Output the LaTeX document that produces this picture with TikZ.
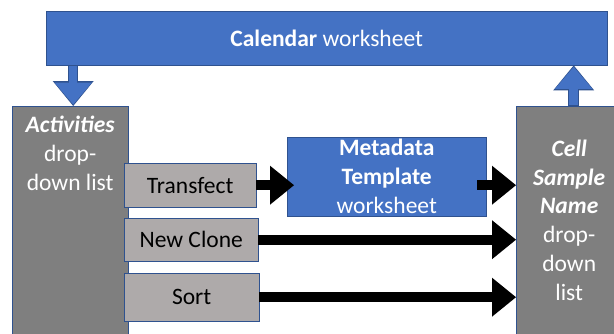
\documentclass[tikz,border=0pt]{standalone}
\usepackage{fontspec}
\setmainfont{Carlito}
\usetikzlibrary{arrows.meta,positioning}

\definecolor{sheetblue}{HTML}{4472C4}
\definecolor{edgeblue}{HTML}{2F528F}
\definecolor{listgray}{HTML}{7F7F7F}
\definecolor{actgray}{HTML}{AEAAAA}

\begin{document}
\begin{tikzpicture}[x=1bp,y=-1bp,
  every node/.style={font=\fontsize{23.6}{29}\selectfont},
  sheet/.style={fill=sheetblue,draw=edgeblue,text=white,align=center,inner sep=0pt,anchor=north west},
  droplist/.style={fill=listgray,draw=edgeblue,text=white,align=center,inner sep=0pt,anchor=north west},
  activity/.style={fill=actgray,draw=edgeblue,inner sep=0pt,anchor=north west},
  flow/.style={line width=10bp,-{Triangle[width=39bp,length=24bp,line width=0pt]}},
  linkout/.style={line width=10.5bp,draw=edgeblue,-{Triangle[width=41bp,length=25bp,line width=0pt]}},
  linkin/.style={line width=8.5bp,draw=sheetblue,shorten >=1.5bp,-{Triangle[width=37.5bp,length=22bp,line width=0pt]}}]
  \useasboundingbox (0,0) rectangle (614,333);

  % worksheets and lists
  \node[sheet,minimum width=561bp,minimum height=54bp] (cal) at (46,11) {\textbf{Calendar} worksheet};
  \node[droplist,minimum width=116bp,minimum height=236bp,
    label={[text=white,align=center,anchor=north,inner sep=0pt,yshift=-10bp]north:\textbf{\textit{Activities}}\\drop-\\down list}] (acts) at (12,106) {};
  \node[droplist,minimum width=106bp,minimum height=228bp] (cell) at (516,106)
    {\textbf{\textit{Cell}}\\\textbf{\textit{Sample}}\\\textbf{\textit{Name}}\\drop-\\down\\list};
  \node[sheet,minimum width=199bp,minimum height=79bp] (meta) at (287,137)
    {\textbf{Metadata}\\\textbf{Template}\\worksheet};

  % activities
  \node[activity,minimum width=132bp,minimum height=44bp] (trans) at (124,163) {Transfect};
  \node[activity,minimum width=134bp,minimum height=43bp] (clone) at (124,218) {New Clone};
  \node[activity,minimum width=135bp,minimum height=48bp] (sort) at (124,273) {Sort};

  % links to the calendar
  \coordinate (dnend) at ([xshift=3bp]acts.north);
  \coordinate (upstart) at ([xshift=4.5bp]cell.north);
  \draw[linkout] (cal.south -| dnend) -- (dnend);
  \draw[linkin] ([yshift=-1bp]cal.south -| dnend) -- (dnend);
  \draw[linkout] (upstart) -- (cal.south -| upstart);
  \draw[linkin] ([yshift=1bp]upstart) -- (cal.south -| upstart);

  % flows
  \draw[flow] (trans.east) -- ([xshift=7bp]meta.west |- trans.east);
  \draw[flow] ([xshift=-9bp]meta.east |- trans.east) -- (cell.west |- trans.east);
  \draw[flow] (clone.east) -- (cell.west |- clone.east);
  \draw[flow] (sort.east) -- (cell.west |- sort.east);
\end{tikzpicture}
\end{document}
